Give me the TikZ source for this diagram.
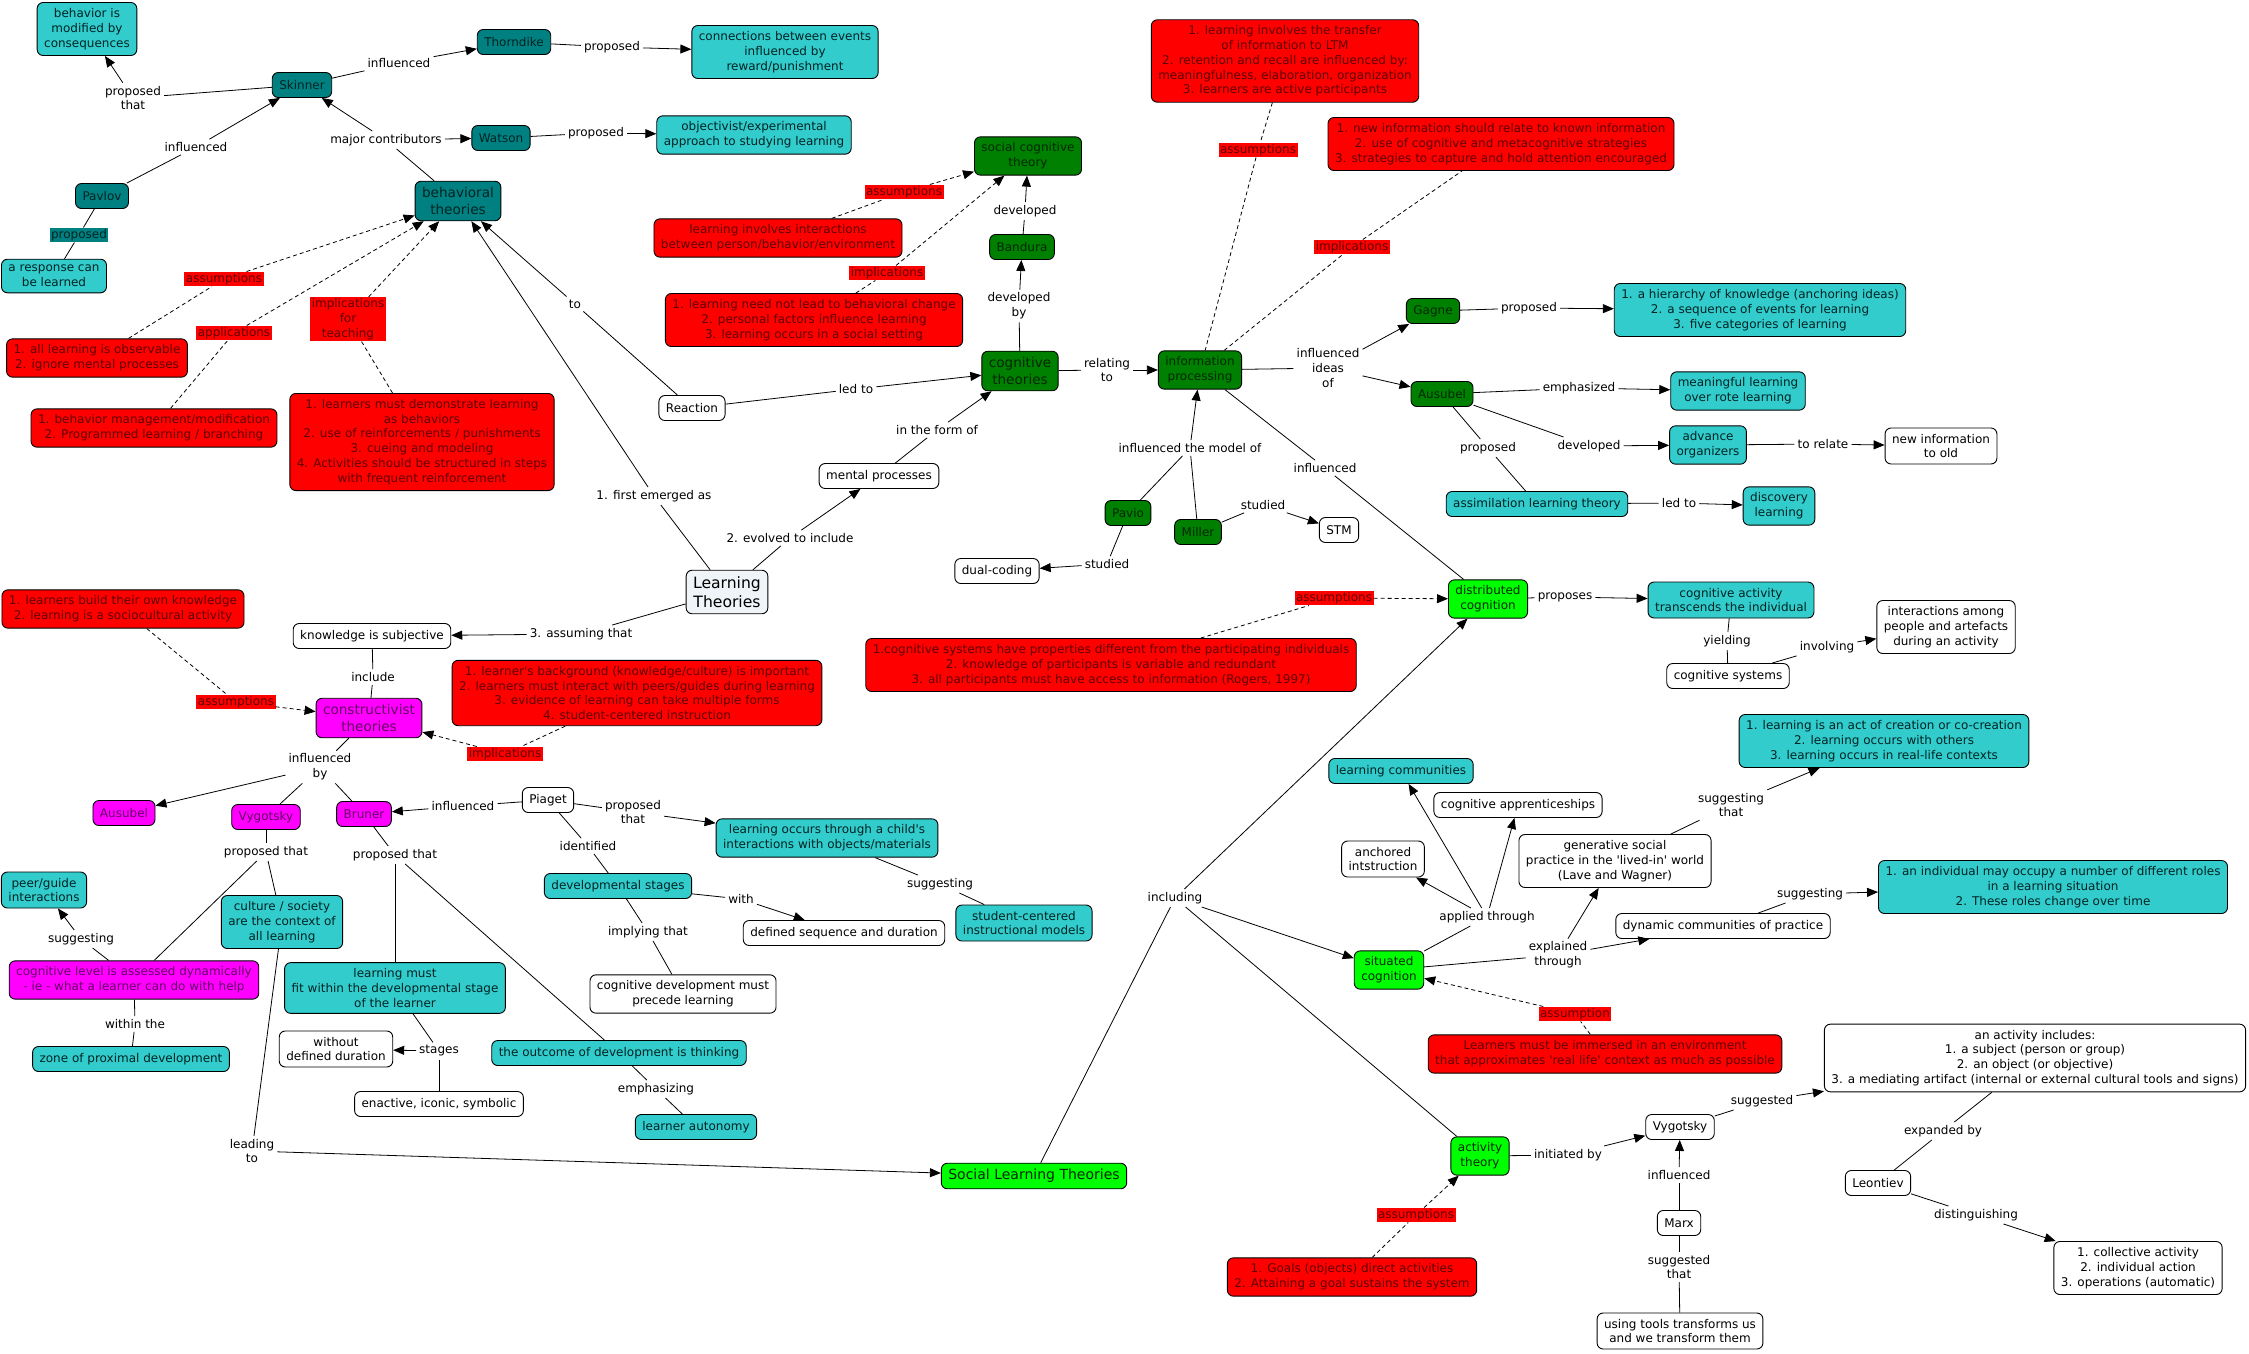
\documentclass[tikz,border=0pt]{standalone}
\usepackage{fontspec}
\setmainfont{DejaVu Sans}
\usetikzlibrary{arrows.meta}

\definecolor{tealfill}{RGB}{0,128,128}
\definecolor{cyanfill}{RGB}{51,204,204}
\definecolor{dkgreen}{RGB}{0,128,0}
\definecolor{limefill}{RGB}{0,255,0}
\definecolor{magfill}{RGB}{255,0,255}
\definecolor{redfill}{RGB}{255,0,0}
\definecolor{paleblue}{RGB}{238,244,247}
\definecolor{darktxt}{RGB}{0,35,35}
\definecolor{redtxt}{RGB}{95,0,0}
\definecolor{greentxt}{RGB}{0,40,0}
\definecolor{magtxt}{RGB}{100,0,100}

\newcommand{\sq}{\textquotesingle}

\tikzset{
  cmap/.style={draw=black, line width=0.9pt, rounded corners=6pt, align=center,
    inner xsep=7pt, inner ysep=6pt, minimum height=25pt,
    font=\fontsize{12}{14.7}\selectfont},
  tealbox/.style={cmap, fill=tealfill, text=darktxt},
  cyanbox/.style={cmap, fill=cyanfill, text=darktxt},
  redbox/.style={cmap, fill=redfill, text=redtxt},
  greenbox/.style={cmap, fill=dkgreen, text=greentxt},
  limebox/.style={cmap, fill=limefill, text=greentxt},
  magbox/.style={cmap, fill=magfill, text=magtxt},
  whitebox/.style={cmap, fill=white, text=black},
  bigtext/.style={font=\fontsize{13.6}{17}\selectfont},
  linklbl/.style={align=center, inner sep=3pt, font=\fontsize{12}{14.7}\selectfont},
  redlbl/.style={linklbl, fill=redfill, text=redtxt, inner sep=1.5pt},
  teallbl/.style={linklbl, fill=tealfill, text=darktxt, inner sep=1.5pt},
  lnk/.style={line width=0.8pt},
  arr/.style={lnk, -{Triangle[length=11pt,width=9pt]}},
  dlnk/.style={lnk, dash pattern=on 4pt off 3pt},
  darr/.style={dlnk, -{Triangle[length=11pt,width=9pt]}},
}

\begin{document}
\begin{tikzpicture}[x=1pt,y=-1pt]
  \useasboundingbox (0,0) rectangle (2249,1353);

  % behavioral theories
  \node[cyanbox] (bmod) at (87,29) {behavior is\\modified by\\consequences};
  \node[tealbox] (thorndike) at (514,42) {Thorndike};
  \node[tealbox] (skinner) at (302,85) {Skinner};
  \node[tealbox] (watson) at (501,138) {Watson};
  \node[tealbox, bigtext] (behav) at (458,201) {behavioral\\theories};
  \node[tealbox] (pavlov) at (102,196) {Pavlov};
  \node[cyanbox] (response) at (54,276) {a response can\\be learned};
  \node[redbox] (bassump) at (97,358) {1. all learning is observable\\2. ignore mental processes};
  \node[redbox] (bapply) at (154,428) {1. behavior management/modification\\2. Programmed learning / branching};
  \node[redbox] (bimpl) at (422,442) {1. learners must demonstrate learning\\as behaviors\\2. use of reinforcements / punishments\\3. cueing and modeling\\4. Activities should be structured in steps\\with frequent reinforcement};
  \node[cyanbox] (conn) at (785,52) {connections between events\\influenced by\\reward/punishment};
  \node[cyanbox] (objexp) at (754,135) {objectivist/experimental\\approach to studying learning};

  \node[linklbl] (lpropthat) at (133,98) {proposed\\that};
  \node[linklbl] (linfl1) at (399,63) {influenced};
  \node[linklbl] (linfl2) at (196,147) {influenced};
  \node[linklbl] (lmajor) at (386,140) {major contributors};
  \node[teallbl] (lprop1) at (79,235) {proposed};
  \node[redlbl] (lbassump) at (224,279) {assumptions};
  \node[redlbl] (lbapply) at (234,333) {applications};
  \node[redlbl] (lbimpl) at (348,319) {implications\\for\\teaching};
  \node[linklbl] (lprop2) at (612,47) {proposed};
  \node[linklbl] (lprop3) at (596,133) {proposed};
  \node[linklbl] (lto) at (575,304) {to};

  % cognitive theories
  \node[greenbox] (scog) at (1028,156) {social cognitive\\theory};
  \node[redbox] (sassump) at (778,238) {learning involves interactions\\between person/behavior/environment};
  \node[redbox] (simpl) at (814,320) {1. learning need not lead to behavioral change\\2. personal factors influence learning\\3. learning occurs in a social setting};
  \node[greenbox] (bandura) at (1022,247) {Bandura};
  \node[greenbox, bigtext] (cogth) at (1020,371) {cognitive\\theories};
  \node[whitebox] (reaction) at (692,408) {Reaction};
  \node[whitebox] (mental) at (879,476) {mental processes};
  \node[cmap, fill=paleblue, font=\fontsize{15.6}{19.5}\selectfont] (learnth) at (727,592) {Learning\\Theories};
  \node[greenbox] (infoproc) at (1200,370) {information\\processing};
  \node[redbox] (ltm) at (1285,61) {1. learning involves the transfer\\of information to LTM\\2. retention and recall are influenced by:\\meaningfulness, elaboration, organization\\3. learners are active participants};
  \node[redbox] (newinfo) at (1501,144) {1. new information should relate to known information\\2. use of cognitive and metacognitive strategies\\3. strategies to capture and hold attention encouraged};
  \node[greenbox] (gagne) at (1433,311) {Gagne};
  \node[cyanbox] (gagnelist) at (1760,310) {1. a hierarchy of knowledge (anchoring ideas)\\2. a sequence of events for learning\\3. five categories of learning};
  \node[greenbox] (ausubel) at (1442,394) {Ausubel};
  \node[cyanbox] (meaning) at (1738,391) {meaningful learning\\over rote learning};
  \node[cyanbox] (advorg) at (1708,445) {advance\\organizers};
  \node[whitebox] (newold) at (1941,446) {new information\\to old};
  \node[cyanbox] (assim) at (1537,504) {assimilation learning theory};
  \node[cyanbox] (discov) at (1779,506) {discovery\\learning};
  \node[greenbox] (pavio) at (1128,513) {Pavio};
  \node[greenbox] (miller) at (1198,532) {Miller};
  \node[whitebox] (stm) at (1339,530) {STM};
  \node[whitebox] (dualc) at (997,571) {dual-coding};

  \node[redlbl] (lsassump) at (904,192) {assumptions};
  \node[redlbl] (lsimpl) at (887,273) {implications};
  \node[linklbl] (ldev) at (1025,211) {developed};
  \node[linklbl] (ldevby) at (1019,306) {developed\\by};
  \node[linklbl] (lrel) at (1107,370) {relating\\to};
  \node[linklbl] (lledto) at (856,389) {led to};
  \node[linklbl] (lform) at (937,430) {in the form of};
  \node[linklbl] (lfirst) at (654,496) {1. first emerged as};
  \node[linklbl] (levolved) at (790,538) {2. evolved to include};
  \node[linklbl] (lassuming) at (581,634) {3. assuming that};
  \node[redlbl] (liassump) at (1258,150) {assumptions};
  \node[redlbl] (liimpl) at (1352,247) {implications};
  \node[linklbl] (lideas) at (1328,368) {influenced\\ideas\\of};
  \node[linklbl] (lprop4) at (1529,308) {proposed};
  \node[linklbl] (lemph) at (1579,388) {emphasized};
  \node[linklbl] (ldev2) at (1589,446) {developed};
  \node[linklbl] (lrelate) at (1823,444) {to relate};
  \node[linklbl] (lprop5) at (1488,448) {proposed};
  \node[linklbl] (lledto2) at (1679,503) {led to};
  \node[linklbl] (lmodel) at (1190,448) {influenced the model of};
  \node[linklbl] (lstud1) at (1107,564) {studied};
  \node[linklbl] (lstud2) at (1263,505) {studied};
  \node[linklbl] (linfl3) at (1325,468) {influenced};

  % distributed cognition
  \node[limebox] (distcog) at (1488,599) {distributed\\cognition};
  \node[redbox] (dassump) at (1111,665) {1.cognitive systems have properties different from the participating individuals\\2. knowledge of participants is variable and redundant\\3. all participants must have access to information (Rogers, 1997)};
  \node[cyanbox] (transc) at (1731,600) {cognitive activity\\transcends the individual};
  \node[whitebox] (cogsys) at (1728,676) {cognitive systems};
  \node[whitebox] (interact) at (1946,627) {interactions among\\people and artefacts\\during an activity};

  \node[redlbl] (ldassump) at (1334,598) {assumptions};
  \node[linklbl] (lproposes) at (1565,597) {proposes};
  \node[linklbl] (lyield) at (1727,641) {yielding};
  \node[linklbl] (linvolv) at (1827,647) {involving};

  % social learning theories
  \node[limebox, font=\fontsize{14}{17}\selectfont] (social) at (1034,1176) {Social Learning Theories};
  \node[limebox] (situated) at (1389,970) {situated\\cognition};
  \node[cyanbox] (lcomm) at (1401,771) {learning communities};
  \node[whitebox] (apprent) at (1518,805) {cognitive apprenticeships};
  \node[whitebox] (anchored) at (1383,859) {anchored\\intstruction};
  \node[whitebox] (generat) at (1615,861) {generative social\\practice in the \sq lived-in\sq{} world\\(Lave and Wagner)};
  \node[whitebox] (dynamic) at (1723,926) {dynamic communities of practice};
  \node[cyanbox] (creation) at (1884,741) {1. learning is an act of creation or co-creation\\2. learning occurs with others\\3. learning occurs in real-life contexts};
  \node[cyanbox] (roles) at (2053,887) {1. an individual may occupy a number of different roles\\in a learning situation\\2. These roles change over time};
  \node[redbox] (immersed) at (1605,1054) {Learners must be immersed in an environment\\that approximates \sq real life\sq{} context as much as possible};
  \node[limebox] (activity) at (1480,1156) {activity\\theory};
  \node[redbox] (goals) at (1352,1277) {1. Goals (objects) direct activities\\2. Attaining a goal sustains the system};
  \node[whitebox] (vygw) at (1680,1127) {Vygotsky};
  \node[whitebox] (marx) at (1679,1223) {Marx};
  \node[whitebox] (tools) at (1680,1331) {using tools transforms us\\and we transform them};
  \node[whitebox] (actinc) at (2035,1058) {an activity includes:\\1. a subject (person or group)\\2. an object (or objective)\\3. a mediating artifact (internal or external cultural tools and signs)};
  \node[whitebox] (leontiev) at (1878,1183) {Leontiev};
  \node[whitebox] (levels) at (2138,1268) {1. collective activity\\2. individual action\\3. operations (automatic)};

  \node[linklbl] (lincl) at (1175,898) {including};
  \node[linklbl] (lapplied) at (1487,917) {applied through};
  \node[linklbl] (lexpl) at (1558,955) {explained\\through};
  \node[linklbl] (lsugthat) at (1731,805) {suggesting\\that};
  \node[linklbl] (lsug) at (1810,894) {suggesting};
  \node[redlbl] (lsitassump) at (1575,1014) {assumption};
  \node[linklbl] (linit) at (1568,1155) {initiated by};
  \node[linklbl] (linfl4) at (1679,1175) {influenced};
  \node[linklbl] (lsugdthat) at (1679,1267) {suggested\\that};
  \node[linklbl] (lsuggested) at (1762,1101) {suggested};
  \node[linklbl] (lexpand) at (1943,1131) {expanded by};
  \node[linklbl] (ldist) at (1976,1215) {distinguishing};
  \node[redlbl] (lactassump) at (1416,1215) {assumptions};

  % constructivist theories
  \node[redbox] (cassump) at (123,609) {1. learners build their own knowledge\\2. learning is a sociocultural activity};
  \node[whitebox] (subj) at (372,636) {knowledge is subjective};
  \node[magbox, bigtext] (constr) at (369,718) {constructivist\\theories};
  \node[redbox] (cimpl) at (637,693) {1. learner\sq s background (knowledge/culture) is important\\2. learners must interact with peers/guides during learning\\3. evidence of learning can take multiple forms\\4. student-centered instruction};
  \node[magbox] (ausm) at (124,813) {Ausubel};
  \node[magbox] (vygm) at (266,817) {Vygotsky};
  \node[magbox] (bruner) at (364,814) {Bruner};
  \node[whitebox] (piaget) at (548,800) {Piaget};
  \node[cyanbox] (childint) at (827,838) {learning occurs through a child\sq s\\interactions with objects/materials};
  \node[cyanbox] (devstages) at (618,886) {developmental stages};
  \node[whitebox] (defseq) at (844,933) {defined sequence and duration};
  \node[cyanbox] (studcent) at (1024,923) {student-centered\\instructional models};
  \node[whitebox] (precede) at (683,994) {cognitive development must\\precede learning};
  \node[cyanbox] (peer) at (44,890) {peer/guide\\interactions};
  \node[cyanbox] (culture) at (282,922) {culture / society\\are the context of\\all learning};
  \node[magbox] (coglevel) at (134,980) {cognitive level is assessed dynamically\\- ie - what a learner can do with help};
  \node[cyanbox] (zpd) at (131,1059) {zone of proximal development};
  \node[cyanbox] (fitstage) at (395,988) {learning must\\fit within the developmental stage\\of the learner};
  \node[whitebox] (nodur) at (336,1049) {without\\defined duration};
  \node[whitebox] (eis) at (439,1104) {enactive, iconic, symbolic};
  \node[cyanbox] (outcome) at (619,1053) {the outcome of development is thinking};
  \node[cyanbox] (autonomy) at (696,1127) {learner autonomy};

  \node[linklbl] (linclude) at (373,677) {include};
  \node[redlbl] (lcassump) at (236,702) {assumptions};
  \node[redlbl] (lcimpl) at (505,754) {implications};
  \node[linklbl] (linflby) at (320,767) {influenced\\by};
  \node[linklbl] (linfl5) at (463,806) {influenced};
  \node[linklbl] (lpropthat2) at (633,812) {proposed\\that};
  \node[linklbl] (lident) at (588,846) {identified};
  \node[linklbl] (lsugg2) at (940,884) {suggesting};
  \node[linklbl] (lwith) at (741,899) {with};
  \node[linklbl] (limply) at (648,932) {implying that};
  \node[linklbl] (lvprop) at (266,852) {proposed that};
  \node[linklbl] (lbprop) at (395,855) {proposed that};
  \node[linklbl] (lsugg3) at (81,939) {suggesting};
  \node[linklbl] (lwithin) at (135,1024) {within the};
  \node[linklbl] (lstages) at (439,1051) {stages};
  \node[linklbl] (lemphz) at (656,1089) {emphasizing};
  \node[linklbl] (llead) at (252,1151) {leading\\to};

  % plain links
  \foreach \a/\b in {skinner/lpropthat, skinner/linfl1, pavlov/linfl2, pavlov/lprop1,
      lprop1/response, thorndike/lprop2, watson/lprop3, behav/lmajor, reaction/lto,
      learnth/lfirst, learnth/levolved, learnth/lassuming, reaction/lledto, mental/lform,
      cogth/ldevby, bandura/ldev, cogth/lrel, infoproc/lideas, gagne/lprop4,
      ausubel/lemph, ausubel/ldev2, advorg/lrelate, ausubel/lprop5, lprop5/assim,
      assim/lledto2, pavio/lmodel, miller/lmodel, pavio/lstud1, miller/lstud2,
      infoproc/linfl3, linfl3/distcog, distcog/lproposes, transc/lyield, lyield/cogsys,
      cogsys/linvolv, social/lincl, lincl/activity, situated/lapplied, situated/lexpl,
      generat/lsugthat, dynamic/lsug, activity/linit, marx/linfl4, marx/lsugdthat,
      lsugdthat/tools, vygw/lsuggested, actinc/lexpand, lexpand/leontiev, leontiev/ldist,
      subj/linclude, linclude/constr, constr/linflby, linflby/vygm, linflby/bruner,
      piaget/linfl5, piaget/lpropthat2, piaget/lident, lident/devstages, devstages/lwith,
      devstages/limply, limply/precede, childint/lsugg2, lsugg2/studcent, vygm/lvprop,
      lvprop/culture, lvprop/coglevel, coglevel/lsugg3, coglevel/lwithin, lwithin/zpd,
      bruner/lbprop, lbprop/fitstage, lbprop/outcome, fitstage/lstages, lstages/eis,
      outcome/lemphz, lemphz/autonomy, culture/llead}
    \draw[lnk] (\a) -- (\b);

  % arrows
  \foreach \a/\b in {lpropthat/bmod, linfl1/thorndike, linfl2/skinner, lprop2/conn,
      lprop3/objexp, lmajor/skinner, lmajor/watson, lto/behav, lfirst/behav,
      levolved/mental, lassuming/subj, lledto/cogth, lform/cogth, ldevby/bandura,
      ldev/scog, lrel/infoproc, lideas/gagne, lideas/ausubel, lprop4/gagnelist,
      lemph/meaning, ldev2/advorg, lrelate/newold, lledto2/discov, lmodel/infoproc,
      lstud1/dualc, lstud2/stm, lproposes/transc, linvolv/interact, lincl/distcog,
      lincl/situated, lapplied/lcomm, lapplied/apprent, lapplied/anchored, lexpl/generat,
      lexpl/dynamic, lsugthat/creation, lsug/roles, linit/vygw, linfl4/vygw,
      lsuggested/actinc, ldist/levels, linflby/ausm, linfl5/bruner, lpropthat2/childint,
      lwith/defseq, lsugg3/peer, lstages/nodur, llead/social}
    \draw[arr] (\a) -- (\b);

  % dashed links
  \foreach \a/\b in {bassump/lbassump, bapply/lbapply, bimpl/lbimpl, sassump/lsassump,
      simpl/lsimpl, ltm/liassump, liassump/infoproc, infoproc/liimpl, liimpl/newinfo,
      dassump/ldassump, immersed/lsitassump, goals/lactassump, cassump/lcassump,
      cimpl/lcimpl}
    \draw[dlnk] (\a) -- (\b);

  \foreach \a/\b in {lbassump/behav, lbapply/behav, lbimpl/behav, lsassump/scog,
      lsimpl/scog, ldassump/distcog, lsitassump/situated, lactassump/activity,
      lcassump/constr, lcimpl/constr}
    \draw[darr] (\a) -- (\b);
\end{tikzpicture}
\end{document}
